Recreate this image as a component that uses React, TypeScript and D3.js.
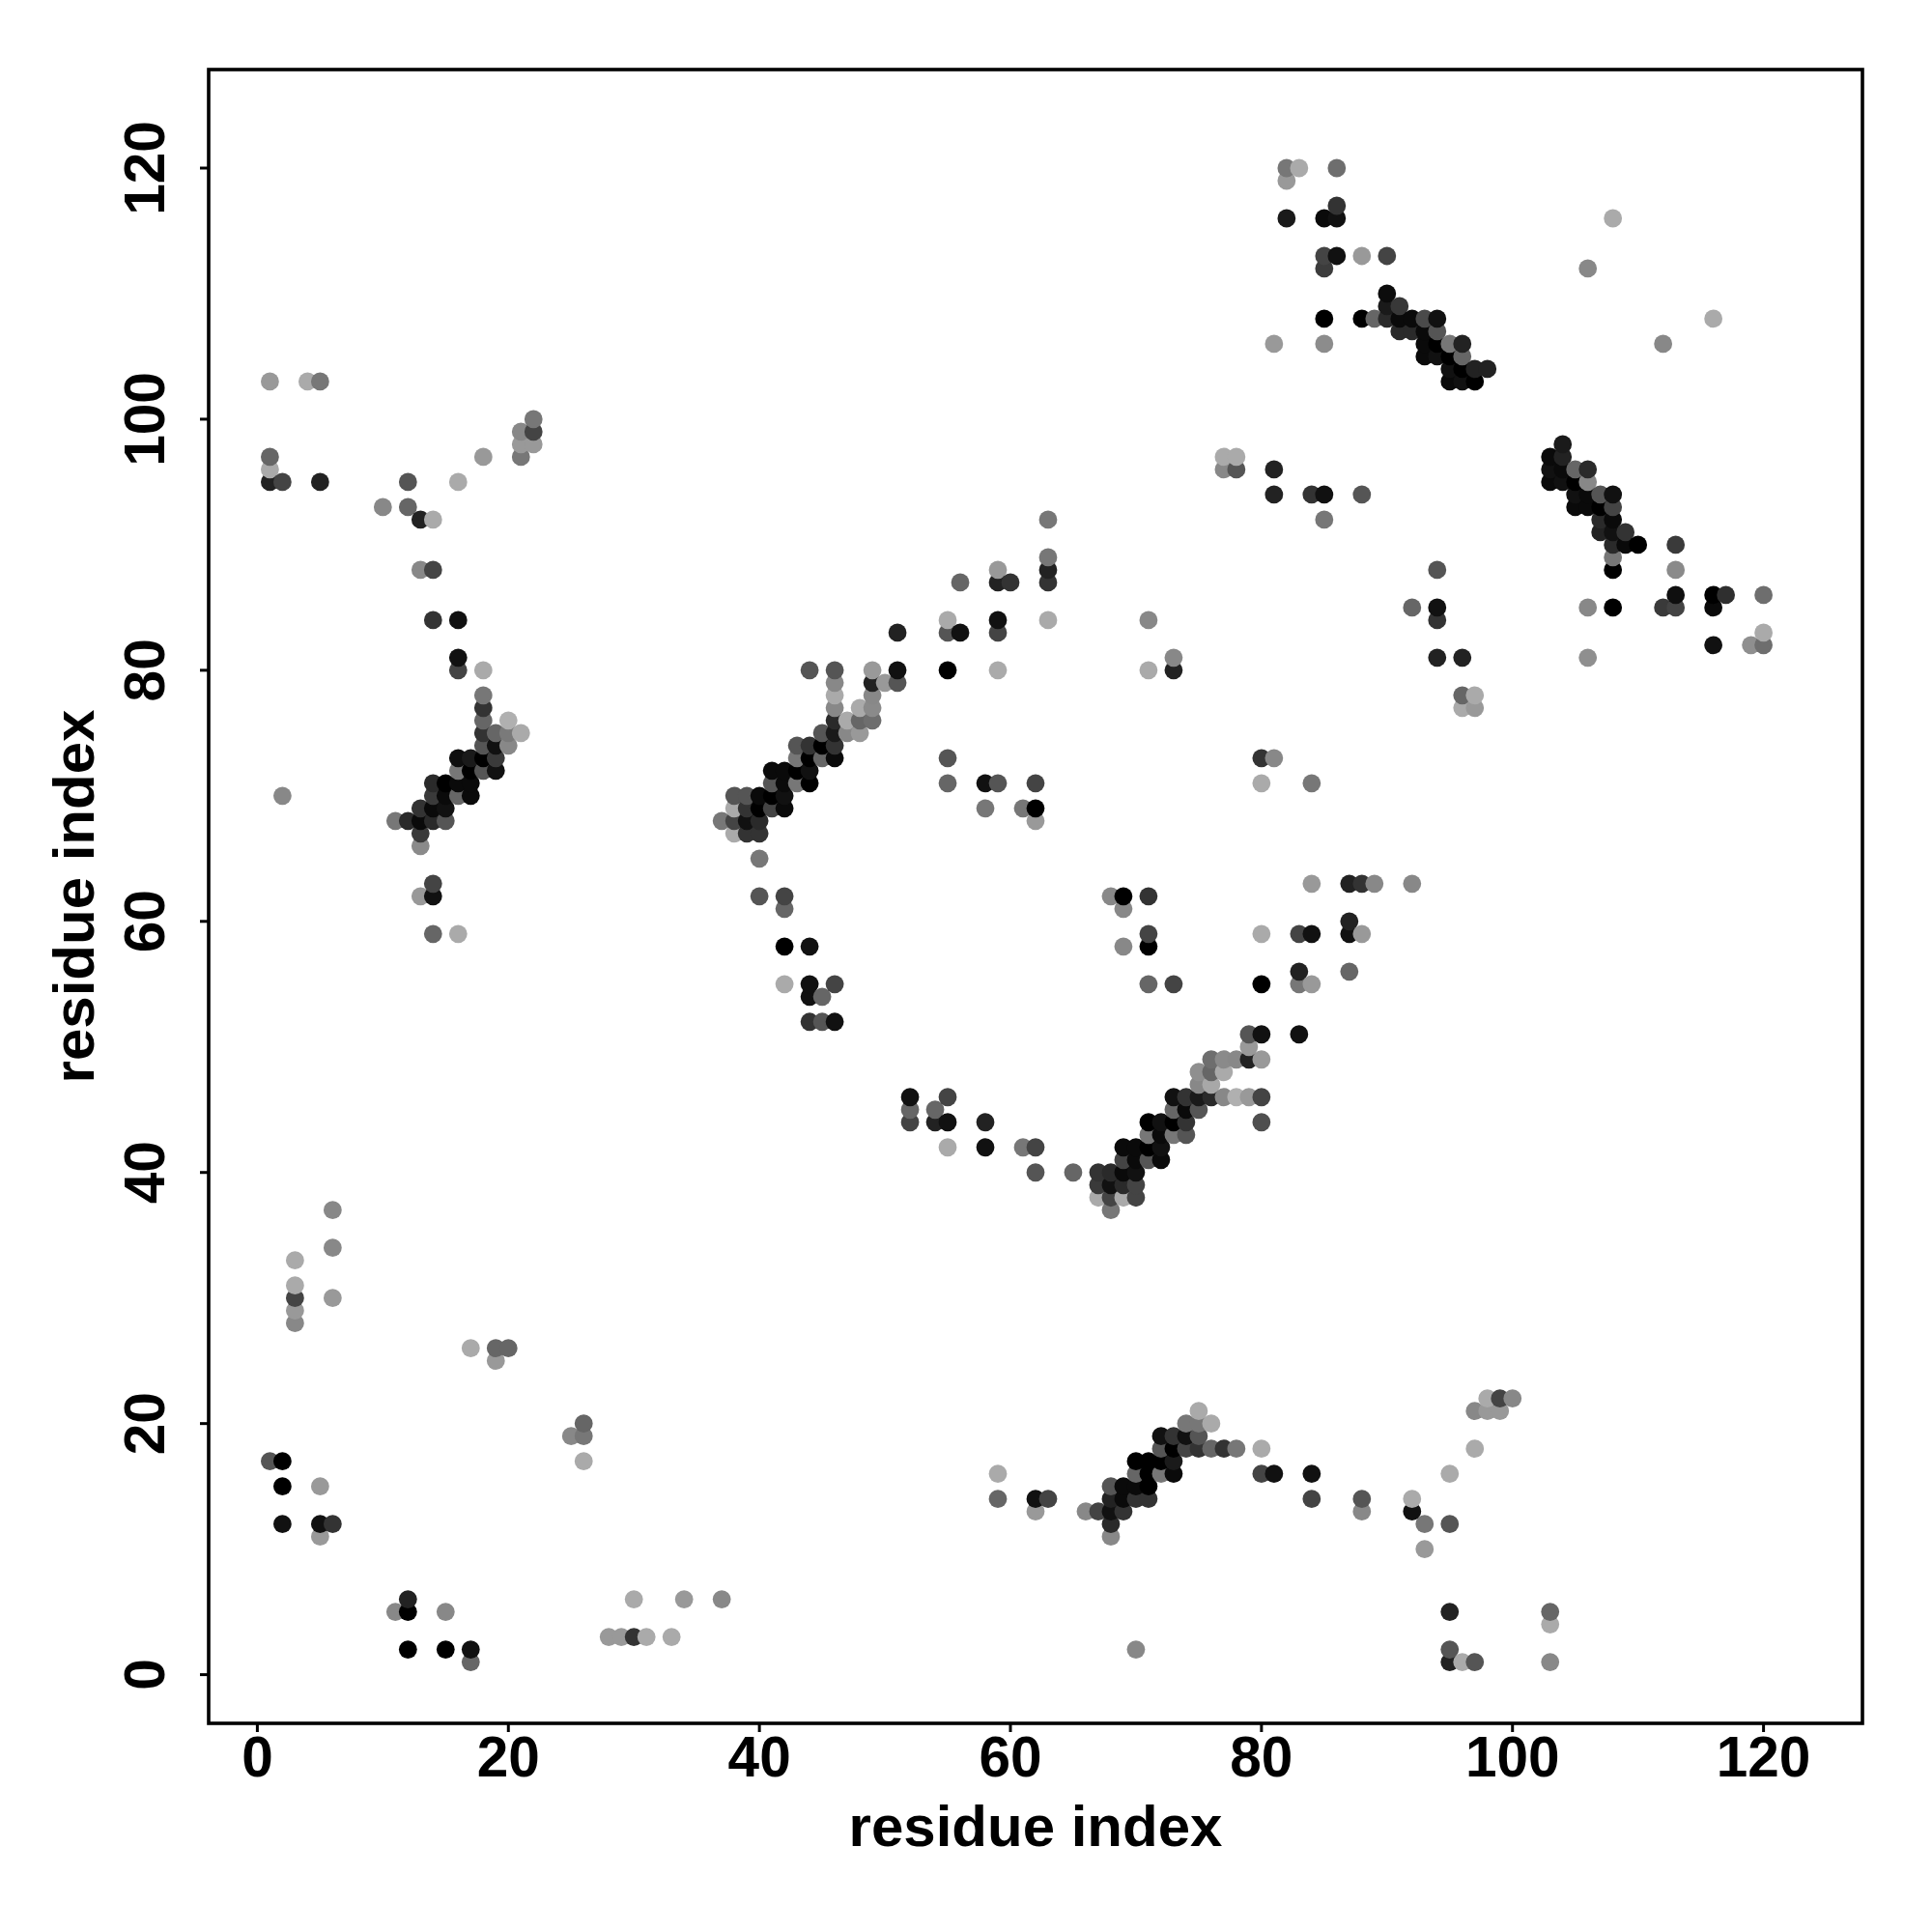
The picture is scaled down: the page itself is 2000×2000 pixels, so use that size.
import React from "react";
import * as d3 from "d3";

type P = [number, number, number];

const topLeftContacts: P[] = [
  [1,103,0x99],[4,103,0xaa],[5,103,0x77],[1,97,0x66],[1,96,0xaa],[1,95,0x22],[2,95,0x44],[5,95,0x22],
  [10,93,0x88],[12,93,0x66],[12,95,0x55],[13,92,0x22],[14,92,0xaa],[13,88,0x88],[14,88,0x44],
  [14,84,0x33],[16,84,0x11],[16,95,0xaa],[18,97,0x99],[21,97,0x77],[21,98,0x99],[21,99,0x88],
  [22,100,0x77],[22,99,0x44],[22,98,0x99],[2,70,0x88],[13,62,0x99],[14,63,0x44],[14,62,0x11],
  [14,59,0x66],[16,59,0xaa],
];
const leftCluster: P[] = [
  [11,68,0x77],[12,68,0x2a],[13,68,0x0a],[14,68,0x2a],[15,68,0x55],[13,67,0x3a],[13,66,0x8a],
  [13,69,0x33],[14,69,0x0a],[15,69,0x11],[14,70,0x3a],[15,70,0x0a],[16,70,0x66],[17,70,0x0a],
  [14,71,0x2a],[15,71,0x00],[16,71,0x0a],[17,71,0x0a],[16,72,0x77],[17,72,0x00],[18,72,0x55],[19,72,0x11],
  [16,73,0x0f],[17,73,0x1a],[18,73,0x00],[19,73,0x3a],[18,74,0x55],[19,74,0x11],[20,74,0x88],
  [18,75,0x33],[19,75,0x66],[20,75,0x7a],[21,75,0xaa],[18,76,0x66],[20,76,0xb0],[18,77,0x33],[18,78,0x77],
  [16,80,0x44],[18,80,0xaa],[16,81,0x11],
];
const middleCluster: P[] = [
  [37,68,0x77],[38,68,0x44],[39,68,0x11],[40,68,0x2a],[38,67,0xaa],[39,67,0x33],[40,67,0x33],
  [38,69,0xaa],[39,69,0x33],[40,69,0x00],[41,69,0x44],[42,69,0x0a],[38,70,0x55],[39,70,0x55],[40,70,0x0a],[41,70,0x00],[42,70,0x11],
  [41,71,0x55],[42,71,0x0a],[43,71,0x77],[44,71,0x00],[41,72,0x0a],[42,72,0x0a],[43,72,0x00],[44,72,0x11],
  [43,73,0x77],[44,73,0x00],[45,73,0x66],[46,73,0x0a],[43,74,0x55],[44,74,0x33],[45,74,0x00],[46,74,0x33],
  [45,75,0x55],[46,75,0x1a],[47,75,0x88],[48,75,0x99],[46,76,0x2a],[47,76,0xaa],[48,76,0x66],[49,76,0x6e],
  [46,77,0x88],[48,77,0xaa],[49,77,0x8a],[46,78,0xaa],[49,78,0x88],[46,79,0x88],[49,79,0x22],[50,79,0x99],[51,79,0x55],
  [44,80,0x55],[46,80,0x55],[49,80,0x99],[51,80,0x11],[40,65,0x77],
];
const middleScatter: P[] = [
  [40,62,0x55],[42,62,0x44],[42,61,0x66],[42,58,0x00],[44,58,0x11],[42,55,0xaa],[44,55,0x11],[46,55,0x44],
  [44,54,0x11],[45,54,0x66],[44,52,0x33],[45,52,0x55],[46,52,0x11],
  [51,83,0x22],[55,80,0x00],[55,84,0xaa],[55,83,0x55],[56,83,0x11],[56,87,0x66],[59,88,0x99],[59,87,0x22],[60,87,0x33],
  [59,84,0x11],[59,83,0x44],[59,80,0xaa],[63,92,0x77],[63,89,0x77],[63,88,0x22],[63,87,0x33],[63,84,0xaa],
  [55,73,0x55],[55,71,0x66],[58,71,0x11],[59,71,0x55],[62,71,0x44],[58,69,0x77],[61,69,0x77],[62,69,0x00],[62,68,0x99],
  [71,84,0x88],[71,80,0xaa],[73,81,0x88],[73,80,0x22],[80,73,0x33],[81,73,0x88],[80,71,0xaa],[84,71,0x77],
  [77,97,0xaa],[78,97,0xaa],[77,96,0x88],[78,96,0x55],[81,96,0x22],[81,94,0x22],[84,94,0x33],[85,94,0x11],[88,94,0x55],[85,92,0x77],
  [92,85,0x66],[94,88,0x55],[94,85,0x11],[94,84,0x33],[94,81,0x22],[96,81,0x22],[96,78,0x66],[97,78,0xaa],[96,77,0xaa],[97,77,0x99],
  [106,112,0x88],[108,116,0xaa],[112,106,0x88],[116,108,0xaa],
  [68,62,0x88],[69,62,0x00],[69,61,0x88],[71,62,0x33],[69,58,0x88],[71,59,0x44],[71,58,0x00],[71,55,0x66],[73,55,0x44],
  [80,59,0xaa],[80,55,0x00],[83,59,0x44],[84,59,0x11],[83,56,0x22],[83,55,0x77],[84,55,0x99],[83,51,0x11],
  [84,63,0x99],[87,63,0x22],[88,63,0x33],[89,63,0x88],[92,63,0x88],[87,60,0x22],[87,59,0x11],[88,59,0x99],[87,56,0x66],
  [52,46,0x11],[52,45,0x66],[52,44,0x44],[54,45,0x66],[54,44,0x22],[55,44,0x11],[55,46,0x44],[55,42,0xaa],
  [58,44,0x22],[58,42,0x11],[61,42,0x77],[62,42,0x44],[62,40,0x55],[65,40,0x66],
];
const topRightCluster: P[] = [
  [82,120,0x77],[83,120,0xaa],[82,119,0x99],[86,120,0x6e],[86,117,0x33],[85,116,0x0a],[86,116,0x11],[82,116,0x1a],
  [85,113,0x44],[86,113,0x11],[88,113,0x99],[90,113,0x44],[85,112,0x3c],[90,110,0x0c],[90,109,0x1a],[91,109,0x38],
  [85,108,0x00],[88,108,0x00],[89,108,0x66],[90,108,0x2a],[91,108,0x0a],[92,108,0x0a],[93,108,0x4a],[94,108,0x11],
  [91,107,0x2a],[92,107,0x2a],[93,107,0x0a],[94,107,0x55],[81,106,0x99],[85,106,0x8c],[93,106,0x0a],[94,106,0x00],[95,106,0x77],[96,106,0x22],
  [93,105,0x0a],[94,105,0x11],[95,105,0x00],[96,105,0x66],[95,104,0x11],[96,104,0x00],[97,104,0x22],[98,104,0x22],
  [95,103,0x0a],[96,103,0x11],[97,103,0x00],
];
const rightCluster: P[] = [
  [104,98,0x1a],[103,97,0x0a],[104,97,0x22],[103,96,0x11],[104,96,0x0a],[105,96,0x66],[106,96,0x2a],
  [103,95,0x0a],[104,95,0x11],[105,95,0x00],[106,95,0x88],[105,94,0x11],[106,94,0x0a],[107,94,0x55],[108,94,0x11],
  [105,93,0x0a],[106,93,0x0a],[107,93,0x00],[108,93,0x44],[107,92,0x2a],[108,92,0x0a],[107,91,0x22],[108,91,0x11],[109,91,0x33],
  [108,90,0x2a],[109,90,0x0a],[110,90,0x00],[113,90,0x3a],[108,89,0x77],[108,88,0x00],[113,88,0x8a],
  [113,86,0x0f],[116,86,0x00],[117,86,0x2f],[120,86,0x6e],[106,85,0x88],[108,85,0x00],[112,85,0x3a],[113,85,0x44],[116,85,0x0a],
  [120,83,0xaa],[116,82,0x11],[119,82,0x8f],[120,82,0x6e],[106,81,0x8f],
];
const lowerMiddleCluster: P[] = [
  [67,40,0x33],[68,40,0x2a],[69,40,0x0a],[70,40,0x11],[67,39,0x3a],[68,39,0x11],[69,39,0x2a],[70,39,0x44],
  [67,38,0xaa],[68,38,0x44],[69,38,0xaa],[70,38,0x44],[68,37,0x77],[69,41,0x44],[70,41,0x0a],[71,41,0x55],[72,41,0x0a],
  [69,42,0x0a],[70,42,0x0a],[71,42,0x00],[72,42,0x11],[71,43,0x77],[72,43,0x0a],[73,43,0x77],[74,43,0x55],
  [71,44,0x00],[72,44,0x11],[73,44,0x00],[74,44,0x33],[73,45,0x66],[74,45,0x0a],[75,45,0x55],
  [73,46,0x11],[74,46,0x33],[75,46,0x1a],[76,46,0x2a],[77,46,0x88],[78,46,0xb0],[79,46,0x99],[80,46,0x44],
  [75,47,0x88],[76,47,0xa8],[75,48,0x8f],[76,48,0x66],[77,48,0xaa],[76,49,0x6e],[77,49,0x8a],[78,49,0x88],[79,49,0x22],[80,49,0x99],
  [79,50,0x99],[79,51,0x55],[80,51,0x11],[80,44,0x4f],
];
const bottomMiddleCluster: P[] = [
  [66,13,0x88],[67,13,0x44],[68,13,0x11],[69,13,0x33],[68,12,0x2a],[68,11,0x88],[68,14,0x22],[69,14,0x0a],[70,14,0x33],[71,14,0x33],
  [68,15,0x55],[69,15,0x0a],[70,15,0x0a],[71,15,0x00],[70,16,0x66],[71,16,0x00],[72,16,0x77],[73,16,0x0a],
  [70,17,0x00],[71,17,0x00],[72,17,0x00],[73,17,0x1a],[72,18,0x55],[73,18,0x00],[74,18,0x44],[75,18,0x33],[76,18,0x66],[77,18,0x33],[78,18,0x77],[80,18,0xaa],
  [72,19,0x11],[73,19,0x33],[74,19,0x11],[75,19,0x55],[74,20,0x77],[75,20,0x77],[76,20,0xaa],[75,21,0xaa],[80,16,0x44],[81,16,0x11],
];
const bottomScatter: P[] = [
  [3,33,0xaa],[6,37,0x88],[6,34,0x88],[3,31,0xaa],[3,30,0x44],[6,30,0x99],[3,29,0x99],[3,28,0x88],
  [17,26,0xaa],[19,26,0x66],[20,26,0x66],[19,25,0x99],[25,19,0x88],[26,20,0x66],[26,19,0x77],[26,17,0xaa],
  [1,17,0x55],[2,17,0x00],[2,15,0x00],[5,15,0x99],[2,12,0x11],[5,12,0x11],[6,12,0x33],[5,11,0x99],
  [11,5,0x88],[12,6,0x22],[12,5,0x00],[15,5,0x88],[12,2,0x00],[15,2,0x00],[17,2,0x11],[17,1,0x66],
  [28,3,0x99],[29,3,0x99],[30,3,0x33],[30,6,0xaa],[31,3,0xaa],[33,3,0xaa],[34,6,0x99],[37,6,0x88],[70,2,0x88],
  [59,16,0xaa],[59,14,0x66],[62,14,0x11],[63,14,0x44],[62,13,0x99],
  [84,16,0x11],[84,14,0x44],[88,14,0x55],[88,13,0x88],[92,14,0xaa],[92,13,0x11],[93,12,0x77],[95,12,0x55],[93,10,0x99],
  [95,16,0xaa],[97,18,0xaa],[97,21,0x88],[98,22,0xaa],[98,21,0x99],[99,22,0x44],[99,21,0x99],[100,22,0x88],
  [95,5,0x22],[95,2,0x55],[95,1,0x22],[96,1,0xaa],[97,1,0x55],[103,5,0x66],[103,4,0xaa],[103,1,0x88],
];

const xTicks = [0, 20, 40, 60, 80, 100, 120];
const yTicks = [0, 20, 40, 60, 80, 100, 120];
const xTitle = "residue index";
const yTitle = "residue index";

const SIZE = 2000;
const frame = { left: 216, right: 1928, top: 72, bottom: 1784 };
const FONT = "'Liberation Sans', Arial, sans-serif";

export default function App() {
  const x = d3.scaleLinear().domain([0, 120]).range([266.4, 1825.6]);
  const y = d3.scaleLinear().domain([0, 120]).range([1733.6, 174]);
  const points = d3
    .merge<P>([topLeftContacts, leftCluster, middleCluster, middleScatter, topRightCluster, rightCluster, lowerMiddleCluster, bottomMiddleCluster, bottomScatter])
    .slice()
    .sort((a, b) => a[0] - b[0] || a[1] - b[1]);
  return (
    <svg
      width={SIZE}
      height={SIZE}
      viewBox={`0 0 ${SIZE} ${SIZE}`}
      style={{ position: "absolute", left: 0, top: 0, background: "#fff" }}
      fontFamily={FONT}
      fontWeight="bold"
    >
      <g>
        {points.map(([i, j, g], k) => (
          <circle key={k} cx={x(i)} cy={y(j)} r={9.4} fill={d3.rgb(g, g, g).formatHex()} />
        ))}
      </g>
      <rect
        x={frame.left}
        y={frame.top}
        width={frame.right - frame.left}
        height={frame.bottom - frame.top}
        fill="none"
        stroke="#000"
        strokeWidth={3.6}
      />
      {xTicks.map((t) => (
        <g key={t}>
          <line x1={x(t)} x2={x(t)} y1={frame.bottom} y2={frame.bottom + 9} stroke="#000" strokeWidth={3} />
          <text x={x(t)} y={1839} textAnchor="middle" fontSize={58.5}>{t}</text>
        </g>
      ))}
      {yTicks.map((t) => (
        <g key={t}>
          <line x1={frame.left} x2={frame.left - 9} y1={y(t)} y2={y(t)} stroke="#000" strokeWidth={3} />
          <text transform={`translate(170,${y(t)}) rotate(-90)`} textAnchor="middle" fontSize={58.5}>{t}</text>
        </g>
      ))}
      <text x={1072} y={1911} textAnchor="middle" fontSize={60}>{xTitle}</text>
      <text transform={`translate(97,928) rotate(-90)`} textAnchor="middle" fontSize={60}>{yTitle}</text>
    </svg>
  );
}
